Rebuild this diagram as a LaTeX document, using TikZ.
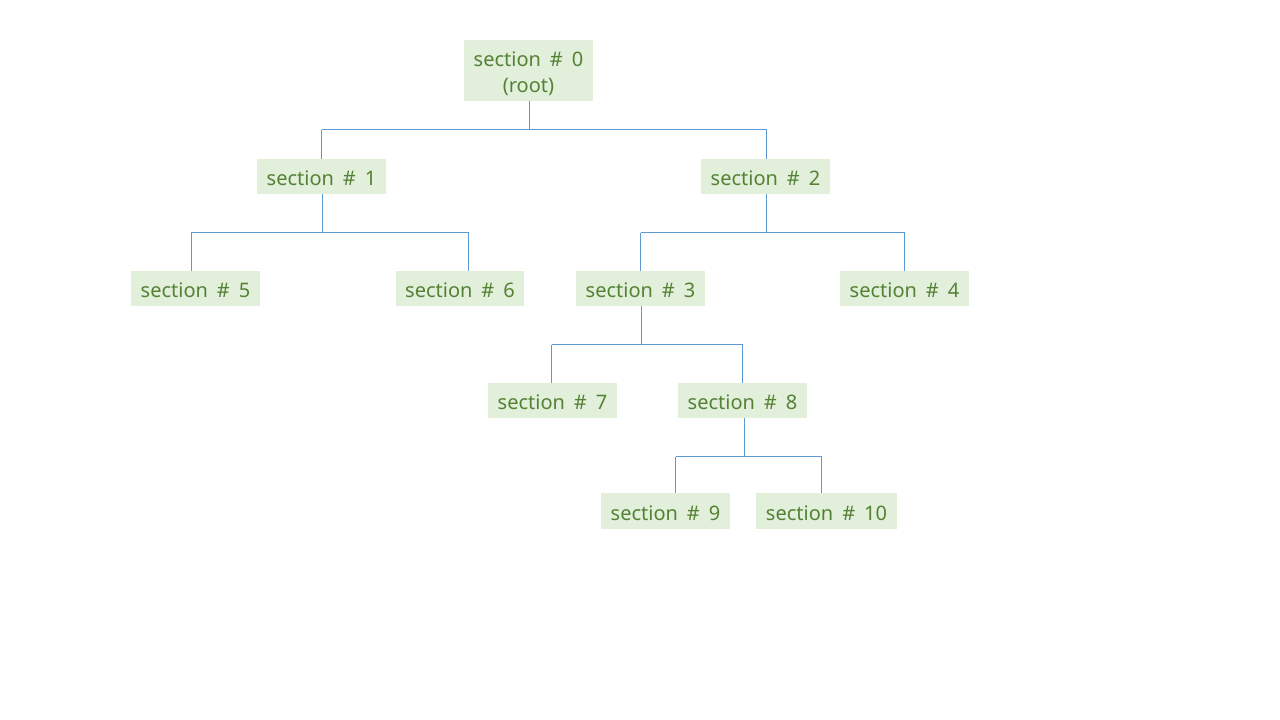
\documentclass[tikz,border=0pt]{standalone}
\usepackage{fontspec}
\setmainfont{Noto Sans}
\definecolor{boxfill}{HTML}{E2EFDA}
\definecolor{boxtext}{HTML}{548235}
\definecolor{linkblue}{HTML}{5B9BD5}
% one text line of fixed size, set slightly low in its box
\newcommand\lowline[1]{\raisebox{-2pt}[14pt][0pt]{#1}}
% section label with roomy spacing around the hash
\newcommand\secname[1]{\lowline{section\hspace{0.45em}\#\hspace{0.45em}#1}}
\begin{document}
\begin{tikzpicture}[x=1pt,y=-1pt,
  secbox/.style={fill=boxfill, text=boxtext, inner sep=0pt,
    minimum width=129pt, minimum height=35pt, align=center,
    font=\fontsize{20}{26}\selectfont},
  link/.style={draw=linkblue, line width=1pt}]
\useasboundingbox (0,0) rectangle (1280,720);
\fill[white] (0,0) rectangle (1280,720);

% sections
\node[secbox, minimum height=61pt] (s0) at (528.5,70.5) {\secname{0}\\\lowline{(root)}};
\node[secbox] (s1) at (321.5,176.5) {\secname{1}};
\node[secbox] (s2) at (765.5,176.5) {\secname{2}};
\node[secbox] (s5) at (195.5,288.5) {\secname{5}};
\node[secbox, minimum width=128pt] (s6) at (460,288.5) {\secname{6}};
\node[secbox] (s3) at (640.5,288.5) {\secname{3}};
\node[secbox] (s4) at (904.5,288.5) {\secname{4}};
\node[secbox] (s7) at (552.5,400.5) {\secname{7}};
\node[secbox] (s8) at (742.5,400.5) {\secname{8}};
\node[secbox, minimum height=36pt] (s9) at (665.5,511) {\secname{9}};
\node[secbox, minimum width=141pt, minimum height=36pt] (s10) at (826.5,511) {\secname{10}};

% bus corners
\coordinate (b0l) at (321.5,129.5);
\coordinate (b0r) at (766.5,129.5);
\coordinate (b1l) at (191,232.5);
\coordinate (b1r) at (468.5,232.5);
\coordinate (b2l) at (640.5,232.5);
\coordinate (b2r) at (904.5,232.5);
\coordinate (b3l) at (551.5,344.5);
\coordinate (b3r) at (742.5,344.5);
\coordinate (b8l) at (675.5,456.5);
\coordinate (b8r) at (821.5,456.5);

% root -> 1, 2
\draw[link] (s0.south -| 529.5,0) -- (529.5,129.5);
\draw[link] (b0l) -- (b0r);
\draw[link] (b0l) -- (s1.north -| b0l);
\draw[link] (b0r) -- (s2.north -| b0r);
% 1 -> 5, 6
\draw[link] (s1.south -| 322,0) -- (322,232.5);
\draw[link] (b1l) -- (b1r);
\draw[link] (b1l) -- (s5.north -| b1l);
\draw[link] (b1r) -- (s6.north -| b1r);
% 2 -> 3, 4
\draw[link] (s2.south -| 766.5,0) -- (766.5,232.5);
\draw[link] (b2l) -- (b2r);
\draw[link] (b2l) -- (s3.north -| b2l);
\draw[link] (b2r) -- (s4.north -| b2r);
% 3 -> 7, 8
\draw[link] (s3.south -| 641.5,0) -- (641.5,344.5);
\draw[link] (b3l) -- (b3r);
\draw[link] (b3l) -- (s7.north -| b3l);
\draw[link] (b3r) -- (s8.north -| b3r);
% 8 -> 9, 10
\draw[link] (s8.south -| 744.5,0) -- (744.5,456.5);
\draw[link] (b8l) -- (b8r);
\draw[link] (b8l) -- (s9.north -| b8l);
\draw[link] (b8r) -- (s10.north -| b8r);
\end{tikzpicture}
\end{document}
